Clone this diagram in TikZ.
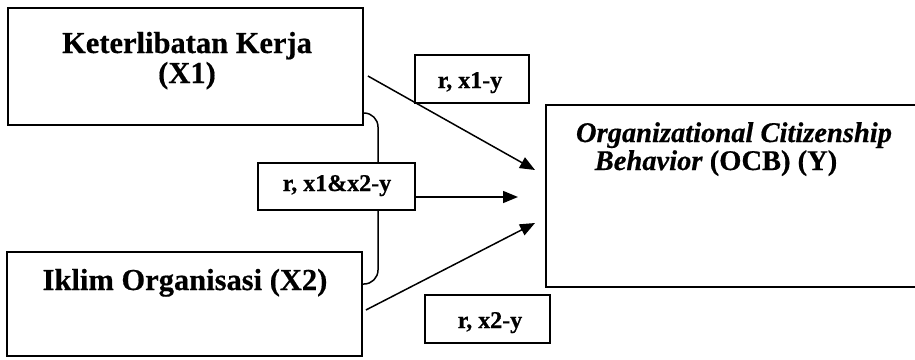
\documentclass[tikz,border=0pt]{standalone}
\usepackage{fontspec}
\setmainfont[BoldFeatures={FakeBold=0.5},BoldItalicFeatures={FakeBold=0.5}]{Liberation Serif}
\usetikzlibrary{arrows.meta,calc}
\begin{document}
\begin{tikzpicture}[x=1pt,y=-1pt,
  box/.style={draw,line width=1.8pt,inner sep=0pt},
  big/.style={font=\fontsize{30.5}{34}\selectfont\bfseries, inner sep=0pt, anchor=base},
  bigy/.style={font=\fontsize{28.5}{32}\selectfont\bfseries, inner sep=0pt, anchor=base},
  small/.style={font=\fontsize{24}{28}\selectfont\bfseries, inner sep=0pt, anchor=base},
  arr/.style={line width=1.5pt,-{Triangle[length=15pt,width=12pt]}}]
\clip (0,0) rectangle (915,359);
\fill[white] (0,0) rectangle (915,359);
% left boxes
\node[box,minimum width=355pt,minimum height=117pt] (x1) at (185.5,66.5) {};
\node[big] (x1a) at (187,53) {Keterlibatan Kerja};
\node[big] (x1b) at (187,83) {(X1)};
\node[box,minimum width=355pt,minimum height=104pt] (x2) at (184.5,304) {};
\node[big] (x2a) at (185,290) {Iklim Organisasi (X2)};
% right box
\node[box,minimum width=379pt,minimum height=182pt] (y) at (735.5,196) {};
\node[bigy] (ya) at (734,142) {\itshape Organizational Citizenship};
\node[bigy] (yb) at (716,170) {\textit{Behavior} (OCB) (Y)};
% bracket
\draw[line width=1.5pt, rounded corners=14pt] (x1.east |- 0,113) -| (378,200) |- (x2.east |- 0,284);
% small boxes
\node[box,fill=white,minimum width=157pt,minimum height=47pt] (m) at (336.5,186.5) {};
\node[small] (mt) at (337,191) {r, x1\&x2-y};
\node[box,fill=white,minimum width=114pt,minimum height=48pt] (r1) at (472,79) {};
\node[small] (r1t) at (470,88) {r, x1-y};
\node[box,fill=white,minimum width=125pt,minimum height=48pt] (r2) at (487.5,319) {};
\node[small] (r2t) at (490,328) {r, x2-y};
% arrows
\coordinate (t1) at (535,170);
\coordinate (t2) at (518,197);
\coordinate (t3) at (535,223);
\draw[arr] ($(x1.east)+(4,9.5)$) -- (t1);
\draw[arr] (m.east |- t2) -- (t2);
\draw[arr] ($(x2.east)+(3,6)$) -- (t3);
\end{tikzpicture}
\end{document}
